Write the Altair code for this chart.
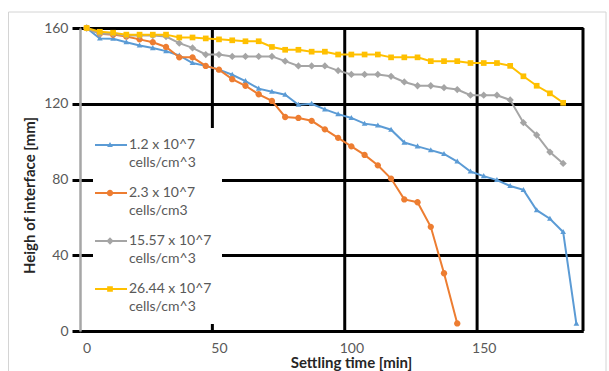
import altair as alt
import pandas as pd

# ---------------- data ----------------
SERIES = [
    "1.2 x 10^7 cells/cm^3",
    "2.3 x 10^7 cells/cm3",
    "15.57 x 10^7 cells/cm^3",
    "26.44 x 10^7 cells/cm^3",
]
COLORS = ["#5B9BD5", "#ED7D31", "#A5A5A5", "#FFC000"]

TIMES = [0, 5, 10, 15, 20, 25, 30, 35, 40, 45, 50, 55, 60, 65, 70, 75, 80, 85, 90,
         95, 100, 105, 110, 115, 120, 125, 130, 135, 140, 145, 150, 155, 160, 165,
         170, 175, 180, 185]

H_BLUE = [160, 154.5, 154.3, 152.5, 150.8, 149.4, 147.8, 145.5, 141.5, 140, 138,
          135.3, 132, 128, 126.3, 124.8, 119.5, 120, 117, 114.5, 112.5, 109.5, 108.5,
          106.3, 99.5, 97.5, 95.5, 93.5, 89.5, 84.2, 81.8, 79.7, 76.6, 74.5, 63.8,
          59.3, 52.3, 3.8]
H_ORANGE = [160, 157, 156.5, 155.5, 154, 152.5, 150, 144.5, 144.5, 140, 138, 133,
            129.5, 125, 121.5, 113, 112.5, 111, 106.5, 102, 97.5, 93, 87.5, 80.5,
            69.5, 68, 55, 30.5, 4]
H_GRAY = [160, 157, 157, 156, 156, 156, 155.5, 152, 149.5, 146, 146, 145, 145, 145,
          145, 142.5, 140, 140, 140, 137.5, 135.5, 135.5, 135.5, 134.5, 131.5, 129.5,
          129.5, 128.5, 127.5, 124.5, 124.5, 124.5, 122, 110, 103.5, 94.5, 88.5]
H_YELLOW = [160, 158, 157.5, 156.5, 156.5, 156.5, 156.5, 155, 155, 154.5, 154, 153.5,
            153, 153, 150, 148.5, 148.5, 147.5, 147.5, 146, 146, 146, 146, 144.5,
            144.5, 144.5, 142.5, 142.5, 142.5, 141.5, 141.5, 141.5, 140, 134.5, 129.5,
            125.5, 120.5]

X_TICKS = [0, 50, 100, 150]
Y_TICKS = [0, 40, 80, 120, 160]
X_DOMAIN = [-2.5, 187.5]
Y_DOMAIN = [0, 160]
V_LINES = [47.5, 97.5, 147.5, 187.5]   # vertical grid lines + right border

# ---------------- styling ----------------
MARKERS = [
    "M0,-0.95L0.9,0.65H-0.9Z",                         # triangle
    "M-1,0A1,1,0,1,1,1,0A1,1,0,1,1,-1,0Z",             # circle
    "M0,-1.15L1.15,0L0,1.15L-1.15,0Z",                 # diamond
    "M-0.9,-0.9H0.9V0.9H-0.9Z",                        # square
]
STUB = "M-4.74,-0.3H5.38V0.3H-4.74Z"
LEGEND_SHAPES = [STUB + m for m in MARKERS]
FONT = "Lato"

rows = []
for name, hs in zip(SERIES, [H_BLUE, H_ORANGE, H_GRAY, H_YELLOW]):
    for t, h in zip(TIMES, hs):
        rows.append({"series": name, "time": t, "height": h})
df = pd.DataFrame(rows)

legend = alt.Legend(
    orient="none", legendX=13, legendY=100, direction="vertical", title=None,
    fillColor="white", padding=10, labelFont=FONT, labelFontSize=14,
    labelColor="#595959", labelOffset=12, rowPadding=16, symbolSize=40,
    symbolStrokeWidth=0, symbolOpacity=1, labelLimit=250,
    labelExpr="[slice(datum.label, 0, indexof(datum.label, ' cells')), "
              "slice(datum.label, indexof(datum.label, ' cells') + 1)]",
)

xscale = alt.Scale(domain=X_DOMAIN, nice=False, zero=False)
yscale = alt.Scale(domain=Y_DOMAIN, nice=False, zero=False)

x_axis = alt.Axis(
    values=X_TICKS, grid=False, ticks=False, domainColor="black", domainWidth=3,
    labelFont=FONT, labelFontSize=14, labelColor="#595959", labelPadding=10,
    labelFlush=False, title="Settling time [min]", titleFont=FONT, titleFontSize=15,
    titleFontWeight="bold", titleColor="#262626", titleX=271, titleY=31,
    titleBaseline="middle", titleAlign="center",
)
y_axis = alt.Axis(
    values=Y_TICKS, grid=True, gridColor="black", gridWidth=3, gridOpacity=1,
    ticks=True, tickColor="black", tickWidth=3, tickSize=8, domainColor="#A6A6A6",
    domainWidth=2.5, labelFont=FONT, labelFontSize=14, labelColor="#595959",
    labelPadding=4, title="Heigh of interface [mm]", titleFont=FONT,
    titleFontSize=15, titleFontWeight="bold", titleColor="#262626",
    titleX=-51, titleY=167, titleAngle=270, titleAlign="center",
    titleBaseline="middle",
)

X = alt.X("time:Q", scale=xscale, axis=x_axis)
Y = alt.Y("height:Q", scale=yscale, axis=y_axis)

frame = alt.Chart(pd.DataFrame({"k": [0]})).mark_rect(
    fillOpacity=0, stroke="#D4D4D4", strokeWidth=1
).encode(x=alt.value(-71.5), x2=alt.value(526), y=alt.value(-16), y2=alt.value(360))

vlines = alt.Chart(pd.DataFrame({"time": V_LINES})).mark_rule(
    color="black", strokeWidth=3
).encode(x=X)

lines = alt.Chart(df).mark_line(strokeWidth=2).encode(
    x=X, y=Y,
    color=alt.Color("series:N", scale=alt.Scale(domain=SERIES, range=COLORS), legend=None),
    detail="series:N",
)

points = alt.Chart(df).mark_point(filled=True, size=40, opacity=1).encode(
    x=X, y=Y,
    color=alt.Color("series:N", scale=alt.Scale(domain=SERIES, range=COLORS), legend=None),
    shape=alt.Shape("series:N", scale=alt.Scale(domain=SERIES, range=MARKERS), legend=None),
)

# invisible layer that only carries the legend (line stub + marker per series)
legend_layer = alt.Chart(df).mark_point(filled=True, size=40, opacity=0).encode(
    x=X, y=Y,
    color=alt.Color("series:N", scale=alt.Scale(domain=SERIES, range=COLORS), legend=legend),
    shape=alt.Shape("series:N", scale=alt.Scale(domain=SERIES, range=LEGEND_SHAPES), legend=legend),
)

chart = alt.layer(frame, vlines, lines, points, legend_layer).resolve_scale(
    color="independent", shape="independent"
).properties(
    width=503, height=303,
    autosize=alt.AutoSizeParams(type="none"),
    padding={"left": 80, "top": 28, "right": 26, "bottom": 40},
).configure_view(strokeWidth=0).configure(
    background="white", style={"guide-label": {"lineHeight": 18}}
)

chart.save("out.html", embed_options={"renderer": "svg", "actions": False})
